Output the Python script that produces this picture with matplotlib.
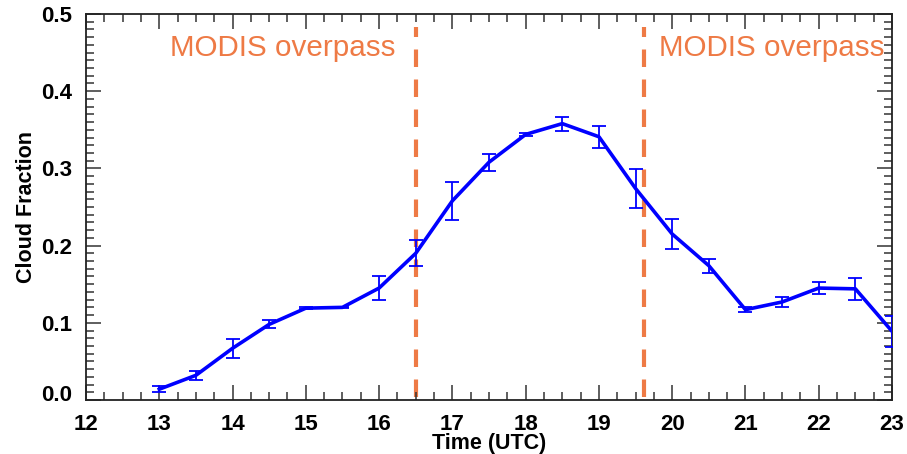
import matplotlib
matplotlib.use("Agg")
import matplotlib.pyplot as plt
from matplotlib.ticker import MultipleLocator
import matplotlib.transforms as mtransforms

hours = [13, 13.5, 14, 14.5, 15, 15.5, 16, 16.5, 17, 17.5, 18, 18.5, 19, 19.5,
         20, 20.5, 21, 21.5, 22, 22.5, 23]
cloud_fraction = [0.014, 0.032, 0.067, 0.098, 0.119, 0.120, 0.145, 0.190, 0.258,
                  0.308, 0.344, 0.358, 0.341, 0.274, 0.215, 0.174, 0.117, 0.127,
                  0.145, 0.144, 0.089]
errors = [0.004, 0.006, 0.012, 0.005, 0.001, 0.001, 0.015, 0.017, 0.025, 0.011,
          0.002, 0.009, 0.014, 0.025, 0.019, 0.009, 0.003, 0.006, 0.008, 0.014, 0.020]
overpass_times = [16.5, 19.62]
overpass_label = "MODIS overpass"
x_ticks = [12, 13, 14, 15, 16, 17, 18, 19, 20, 21, 22, 23]
y_ticks = [0.0, 0.1, 0.2, 0.3, 0.4, 0.5]

plt.rcParams['font.family'] = ['Liberation Sans', 'DejaVu Sans']

fig = plt.figure(figsize=(9.07, 4.54), dpi=100)
ax = fig.add_axes([0.0948, 0.1189, 0.8887, 0.8503])

orange = '#EE7A45'
for t in overpass_times:
    ax.plot([t, t], [0.004, 0.483], color=orange, lw=3.0, linestyle=(0, (4.2, 3.0)),
            zorder=1)

ax.errorbar(hours, cloud_fraction, yerr=errors, color='#0000FF', lw=2.6,
            elinewidth=1.3, capsize=5, capthick=1.3, zorder=3)

ax.text(13.15, 0.445, overpass_label, color=orange, fontsize=21.3, ha='left',
        va='baseline')
ax.text(19.82, 0.445, overpass_label, color=orange, fontsize=21.3, ha='left',
        va='baseline')

ax.set_xlim(12, 23)
ax.set_ylim(0, 0.5)
ax.set_xticks(x_ticks)
ax.set_xticklabels([str(v) for v in x_ticks])
ax.set_yticks(y_ticks)
ax.set_yticklabels([f"{v:.1f}" for v in y_ticks])
ax.xaxis.set_minor_locator(MultipleLocator(0.25))
ax.yaxis.set_minor_locator(MultipleLocator(0.01))

ax.tick_params(which='both', direction='in', top=True, right=True, width=1.1,
               color='#333333')
ax.tick_params(which='major', length=11)
ax.tick_params(which='minor', length=6)
ax.tick_params(axis='x', which='major', pad=10, labelsize=16)
ax.tick_params(axis='y', which='major', pad=10, labelsize=16)
for lab in ax.get_xticklabels() + ax.get_yticklabels():
    lab.set_fontweight('bold')

# lift the 0.0 label slightly like the original
lbl0 = ax.get_yticklabels()[0]
lbl0.set_transform(lbl0.get_transform() + mtransforms.ScaledTranslation(0, 5/72, fig.dpi_scale_trans))

for s in ax.spines.values():
    s.set_linewidth(1.3)
    s.set_color('#222222')

ax.set_xlabel("Time (UTC)", fontsize=15.5, fontweight='bold', labelpad=-1.5)
ax.set_ylabel("Cloud Fraction", fontsize=15.5, fontweight='bold', labelpad=3)

fig.savefig("out.png", dpi=100)
